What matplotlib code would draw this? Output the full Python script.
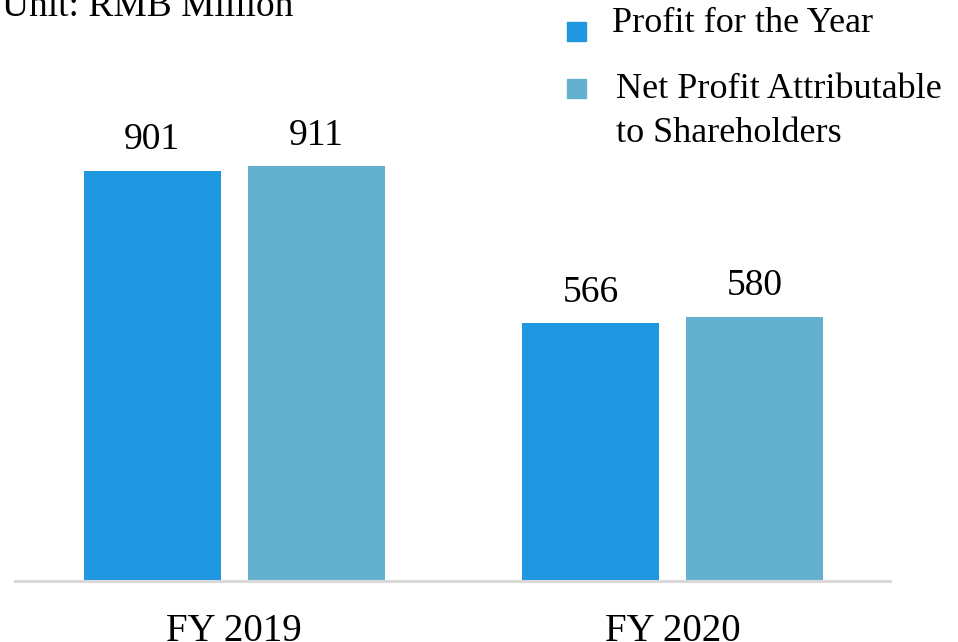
import matplotlib.pyplot as plt
from matplotlib.patches import Rectangle
import numpy as np

plt.rcParams['font.family'] = ['Liberation Serif', 'DejaVu Serif']

years = ['FY 2019', 'FY 2020']
profit_year = [901, 566]
net_profit = [911, 580]
series_names = ['Profit for the Year', 'Net Profit Attributable\nto Shareholders']
colors = ['#1f97e1', '#63b1cf']

fig = plt.figure(figsize=(9.58, 6.42), dpi=100)
ax = fig.add_axes([15 / 958, 61 / 642, 875 / 958, 517 / 642])

x = np.arange(len(years))
w = 0.3124
off = 0.187
for vals, dx, c in [(profit_year, -off, colors[0]), (net_profit, off, colors[1])]:
    bars = ax.bar(x + dx, vals, width=w, color=c, zorder=2)
    for b, v in zip(bars, vals):
        ax.annotate(str(v), (b.get_x() + b.get_width() / 2, v), xytext=(0, 10),
                    textcoords='offset points', ha='center', va='bottom', fontsize=27)

ax.set_xlim(-0.5, 1.495)
ax.set_ylim(0, 1136)
ax.set_yticks([])
ax.set_xticks(x)
ax.set_xticklabels(years, fontsize=28)
ax.tick_params(axis='x', length=0, pad=23)
for s in ['top', 'right', 'left']:
    ax.spines[s].set_visible(False)
ax.spines['bottom'].set_color('#d9d9d9')
ax.spines['bottom'].set_linewidth(2.2)

# title, partly cut off at top as in the source
fig.text(2 / 958, 1 - 16 / 642, 'Unit: RMB Million', fontsize=27, ha='left', va='baseline')

# legend drawn by hand
fig.patches.append(Rectangle((567 / 958, 1 - 41 / 642), 19 / 958, 19 / 642,
                             transform=fig.transFigure, color=colors[0]))
fig.patches.append(Rectangle((567 / 958, 1 - 98 / 642), 19 / 958, 19 / 642,
                             transform=fig.transFigure, color=colors[1]))
fig.text(612 / 958, 1 - 24 / 642, series_names[0], fontsize=26, ha='left', va='center')
fig.text(616 / 958, 1 - 73 / 642, series_names[1], fontsize=26, ha='left', va='top',
         linespacing=1.42)

fig.savefig('out.png', dpi=100)
